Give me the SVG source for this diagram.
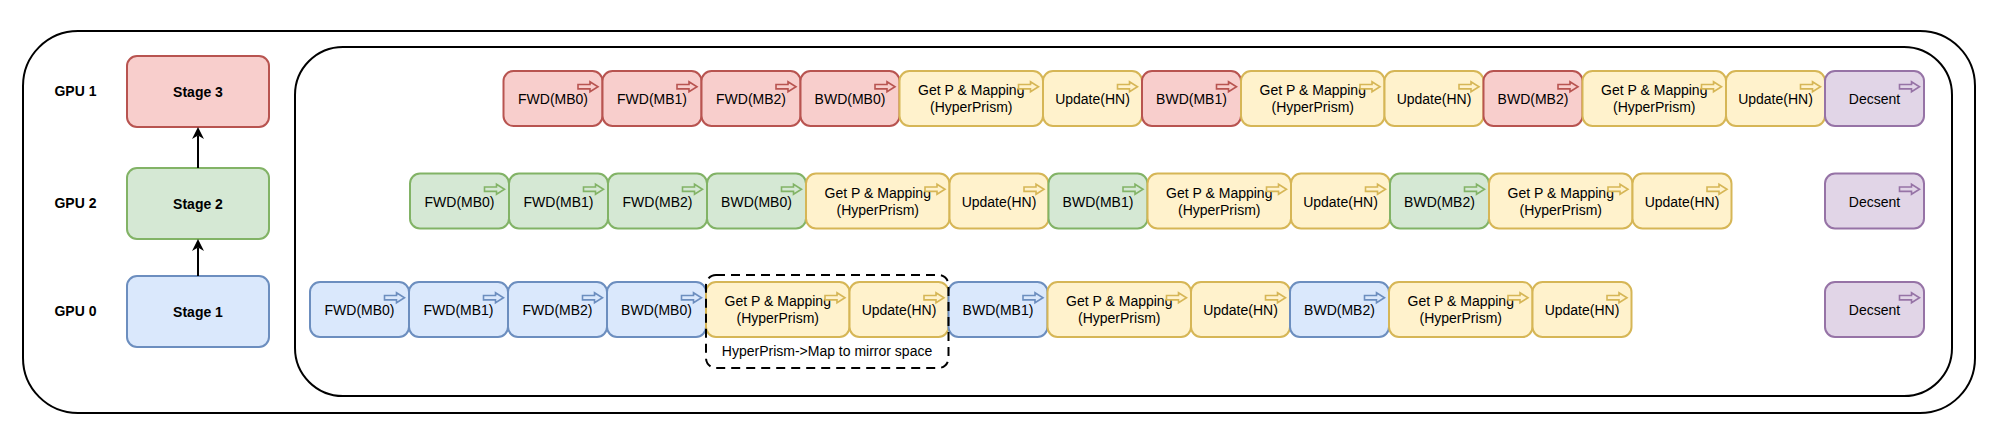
<svg xmlns="http://www.w3.org/2000/svg" xmlns:xlink="http://www.w3.org/1999/xlink" width="2000" height="440" viewBox="0 0 2000 440">
<style>
.frame{fill:none;stroke:#000;stroke-width:2}
.b{stroke-width:2}
.r{fill:#f8cecc;stroke:#b85450}
.g{fill:#d5e8d4;stroke:#82b366}
.bl{fill:#dae8fc;stroke:#6c8ebf}
.y{fill:#fff2cc;stroke:#d6b656}
.p{fill:#e1d5e7;stroke:#9673a6}
.ic{stroke-width:1.6}
.t{font-family:"Liberation Sans",Arial,Helvetica,sans-serif;font-size:14px;text-anchor:middle;fill:#000}
.bd{font-weight:bold}
.dash{fill:none;stroke:#000;stroke-width:2;stroke-dasharray:9 6}
.con{stroke:#000;stroke-width:2;fill:none}
</style>
<defs>
<path id="icon" d="M0,-2.2 H12 V-5 L20,0 L12,5 V2.2 H0 Z"/>
<marker id="ah" viewBox="0 0 12 12" refX="3.5" refY="6" markerWidth="12" markerHeight="12" markerUnits="userSpaceOnUse" orient="auto">
<path d="M0,0 L12,6 L0,12 L3.5,6 Z" fill="#000"/>
</marker>
</defs>
<rect width="2000" height="440" fill="#fff"/>
<g id="outer-frame"><rect class="frame" x="23" y="31" width="1952" height="382" rx="55"/></g>
<g id="schedule-frame"><rect class="frame" x="295" y="47" width="1657" height="349" rx="48"/></g>

<g id="gpu1-label"><text class="t bd" x="75.5" y="96">GPU 1</text></g>
<g id="gpu2-label"><text class="t bd" x="75.5" y="208">GPU 2</text></g>
<g id="gpu0-label"><text class="t bd" x="75.5" y="316">GPU 0</text></g>

<g id="stage3"><rect class="b r" x="127" y="56" width="142" height="71" rx="10"/><text class="t bd" x="198" y="96.5">Stage 3</text></g>
<g id="stage2"><rect class="b g" x="127" y="168" width="142" height="71" rx="10"/><text class="t bd" x="198" y="208.5">Stage 2</text></g>
<g id="stage1"><rect class="b bl" x="127" y="276" width="142" height="71" rx="10"/><text class="t bd" x="198" y="316.5">Stage 1</text></g>

<g id="connectors">
<line class="con" x1="198" y1="276" x2="198" y2="247.5" marker-end="url(#ah)"/>
<line class="con" x1="198" y1="168" x2="198" y2="135.5" marker-end="url(#ah)"/>
</g>

<!-- Row GPU 1 -->
<g id="r1-fwd-mb0"><rect class="b r" x="503.5" y="71" width="99" height="55" rx="10"/><text class="t" x="553" y="104">FWD(MB0)</text><use href="#icon" class="r ic" x="578" y="86.7"/></g>
<g id="r1-fwd-mb1"><rect class="b r" x="602.5" y="71" width="99" height="55" rx="10"/><text class="t" x="652" y="104">FWD(MB1)</text><use href="#icon" class="r ic" x="677" y="86.7"/></g>
<g id="r1-fwd-mb2"><rect class="b r" x="701.5" y="71" width="99" height="55" rx="10"/><text class="t" x="751" y="104">FWD(MB2)</text><use href="#icon" class="r ic" x="776" y="86.7"/></g>
<g id="r1-bwd-mb0"><rect class="b r" x="800.5" y="71" width="99" height="55" rx="10"/><text class="t" x="850" y="104">BWD(MB0)</text><use href="#icon" class="r ic" x="875" y="86.7"/></g>
<g id="r1-getp-1"><rect class="b y" x="899.5" y="71" width="143.5" height="55" rx="10"/><text class="t" x="971.25" y="95">Get P &amp; Mapping</text><text class="t" x="971.25" y="112">(HyperPrism)</text><use href="#icon" class="y ic" x="1018.5" y="86.7"/></g>
<g id="r1-update-1"><rect class="b y" x="1043" y="71" width="99" height="55" rx="10"/><text class="t" x="1092.5" y="104">Update(HN)</text><use href="#icon" class="y ic" x="1117.5" y="86.7"/></g>
<g id="r1-bwd-mb1"><rect class="b r" x="1142" y="71" width="99" height="55" rx="10"/><text class="t" x="1191.5" y="104">BWD(MB1)</text><use href="#icon" class="r ic" x="1216.5" y="86.7"/></g>
<g id="r1-getp-2"><rect class="b y" x="1241" y="71" width="143.5" height="55" rx="10"/><text class="t" x="1312.75" y="95">Get P &amp; Mapping</text><text class="t" x="1312.75" y="112">(HyperPrism)</text><use href="#icon" class="y ic" x="1360" y="86.7"/></g>
<g id="r1-update-2"><rect class="b y" x="1384.5" y="71" width="99" height="55" rx="10"/><text class="t" x="1434" y="104">Update(HN)</text><use href="#icon" class="y ic" x="1459" y="86.7"/></g>
<g id="r1-bwd-mb2"><rect class="b r" x="1483.5" y="71" width="99" height="55" rx="10"/><text class="t" x="1533" y="104">BWD(MB2)</text><use href="#icon" class="r ic" x="1558" y="86.7"/></g>
<g id="r1-getp-3"><rect class="b y" x="1582.5" y="71" width="143.5" height="55" rx="10"/><text class="t" x="1654.25" y="95">Get P &amp; Mapping</text><text class="t" x="1654.25" y="112">(HyperPrism)</text><use href="#icon" class="y ic" x="1701.5" y="86.7"/></g>
<g id="r1-update-3"><rect class="b y" x="1726" y="71" width="99" height="55" rx="10"/><text class="t" x="1775.5" y="104">Update(HN)</text><use href="#icon" class="y ic" x="1800.5" y="86.7"/></g>
<g id="r1-decsent"><rect class="b p" x="1825" y="71" width="99" height="55" rx="10"/><text class="t" x="1874.5" y="104">Decsent</text><use href="#icon" class="p ic" x="1899.5" y="86.7"/></g>

<!-- Row GPU 2 -->
<g id="r2-fwd-mb0"><rect class="b g" x="410" y="173.5" width="99" height="55" rx="10"/><text class="t" x="459.5" y="206.5">FWD(MB0)</text><use href="#icon" class="g ic" x="484.5" y="189.2"/></g>
<g id="r2-fwd-mb1"><rect class="b g" x="509" y="173.5" width="99" height="55" rx="10"/><text class="t" x="558.5" y="206.5">FWD(MB1)</text><use href="#icon" class="g ic" x="583.5" y="189.2"/></g>
<g id="r2-fwd-mb2"><rect class="b g" x="608" y="173.5" width="99" height="55" rx="10"/><text class="t" x="657.5" y="206.5">FWD(MB2)</text><use href="#icon" class="g ic" x="682.5" y="189.2"/></g>
<g id="r2-bwd-mb0"><rect class="b g" x="707" y="173.5" width="99" height="55" rx="10"/><text class="t" x="756.5" y="206.5">BWD(MB0)</text><use href="#icon" class="g ic" x="781.5" y="189.2"/></g>
<g id="r2-getp-1"><rect class="b y" x="806" y="173.5" width="143.5" height="55" rx="10"/><text class="t" x="877.75" y="197.5">Get P &amp; Mapping</text><text class="t" x="877.75" y="214.5">(HyperPrism)</text><use href="#icon" class="y ic" x="925" y="189.2"/></g>
<g id="r2-update-1"><rect class="b y" x="949.5" y="173.5" width="99" height="55" rx="10"/><text class="t" x="999" y="206.5">Update(HN)</text><use href="#icon" class="y ic" x="1024" y="189.2"/></g>
<g id="r2-bwd-mb1"><rect class="b g" x="1048.5" y="173.5" width="99" height="55" rx="10"/><text class="t" x="1098" y="206.5">BWD(MB1)</text><use href="#icon" class="g ic" x="1123" y="189.2"/></g>
<g id="r2-getp-2"><rect class="b y" x="1147.5" y="173.5" width="143.5" height="55" rx="10"/><text class="t" x="1219.25" y="197.5">Get P &amp; Mapping</text><text class="t" x="1219.25" y="214.5">(HyperPrism)</text><use href="#icon" class="y ic" x="1266.5" y="189.2"/></g>
<g id="r2-update-2"><rect class="b y" x="1291" y="173.5" width="99" height="55" rx="10"/><text class="t" x="1340.5" y="206.5">Update(HN)</text><use href="#icon" class="y ic" x="1365.5" y="189.2"/></g>
<g id="r2-bwd-mb2"><rect class="b g" x="1390" y="173.5" width="99" height="55" rx="10"/><text class="t" x="1439.5" y="206.5">BWD(MB2)</text><use href="#icon" class="g ic" x="1464.5" y="189.2"/></g>
<g id="r2-getp-3"><rect class="b y" x="1489" y="173.5" width="143.5" height="55" rx="10"/><text class="t" x="1560.75" y="197.5">Get P &amp; Mapping</text><text class="t" x="1560.75" y="214.5">(HyperPrism)</text><use href="#icon" class="y ic" x="1608" y="189.2"/></g>
<g id="r2-update-3"><rect class="b y" x="1632.5" y="173.5" width="99" height="55" rx="10"/><text class="t" x="1682" y="206.5">Update(HN)</text><use href="#icon" class="y ic" x="1707" y="189.2"/></g>
<g id="r2-decsent"><rect class="b p" x="1825" y="173.5" width="99" height="55" rx="10"/><text class="t" x="1874.5" y="206.5">Decsent</text><use href="#icon" class="p ic" x="1899.5" y="189.2"/></g>

<!-- Row GPU 0 -->
<g id="r3-fwd-mb0"><rect class="b bl" x="310" y="282" width="99" height="55" rx="10"/><text class="t" x="359.5" y="315">FWD(MB0)</text><use href="#icon" class="bl ic" x="384.5" y="297.7"/></g>
<g id="r3-fwd-mb1"><rect class="b bl" x="409" y="282" width="99" height="55" rx="10"/><text class="t" x="458.5" y="315">FWD(MB1)</text><use href="#icon" class="bl ic" x="483.5" y="297.7"/></g>
<g id="r3-fwd-mb2"><rect class="b bl" x="508" y="282" width="99" height="55" rx="10"/><text class="t" x="557.5" y="315">FWD(MB2)</text><use href="#icon" class="bl ic" x="582.5" y="297.7"/></g>
<g id="r3-bwd-mb0"><rect class="b bl" x="607" y="282" width="99" height="55" rx="10"/><text class="t" x="656.5" y="315">BWD(MB0)</text><use href="#icon" class="bl ic" x="681.5" y="297.7"/></g>
<g id="r3-getp-1"><rect class="b y" x="706" y="282" width="143.5" height="55" rx="10"/><text class="t" x="777.75" y="306">Get P &amp; Mapping</text><text class="t" x="777.75" y="323">(HyperPrism)</text><use href="#icon" class="y ic" x="825" y="297.7"/></g>
<g id="r3-update-1"><rect class="b y" x="849.5" y="282" width="99" height="55" rx="10"/><text class="t" x="899" y="315">Update(HN)</text><use href="#icon" class="y ic" x="924" y="297.7"/></g>
<g id="r3-bwd-mb1"><rect class="b bl" x="948.5" y="282" width="99" height="55" rx="10"/><text class="t" x="998" y="315">BWD(MB1)</text><use href="#icon" class="bl ic" x="1023" y="297.7"/></g>
<g id="r3-getp-2"><rect class="b y" x="1047.5" y="282" width="143.5" height="55" rx="10"/><text class="t" x="1119.25" y="306">Get P &amp; Mapping</text><text class="t" x="1119.25" y="323">(HyperPrism)</text><use href="#icon" class="y ic" x="1166.5" y="297.7"/></g>
<g id="r3-update-2"><rect class="b y" x="1191" y="282" width="99" height="55" rx="10"/><text class="t" x="1240.5" y="315">Update(HN)</text><use href="#icon" class="y ic" x="1265.5" y="297.7"/></g>
<g id="r3-bwd-mb2"><rect class="b bl" x="1290" y="282" width="99" height="55" rx="10"/><text class="t" x="1339.5" y="315">BWD(MB2)</text><use href="#icon" class="bl ic" x="1364.5" y="297.7"/></g>
<g id="r3-getp-3"><rect class="b y" x="1389" y="282" width="143.5" height="55" rx="10"/><text class="t" x="1460.75" y="306">Get P &amp; Mapping</text><text class="t" x="1460.75" y="323">(HyperPrism)</text><use href="#icon" class="y ic" x="1508" y="297.7"/></g>
<g id="r3-update-3"><rect class="b y" x="1532.5" y="282" width="99" height="55" rx="10"/><text class="t" x="1582" y="315">Update(HN)</text><use href="#icon" class="y ic" x="1607" y="297.7"/></g>
<g id="r3-decsent"><rect class="b p" x="1825" y="282" width="99" height="55" rx="10"/><text class="t" x="1874.5" y="315">Decsent</text><use href="#icon" class="p ic" x="1899.5" y="297.7"/></g>

<g id="hyperprism-group"><rect class="dash" x="706" y="275" width="242.5" height="93" rx="10"/><text class="t" x="827" y="356">HyperPrism-&gt;Map to mirror space</text></g>
</svg>
